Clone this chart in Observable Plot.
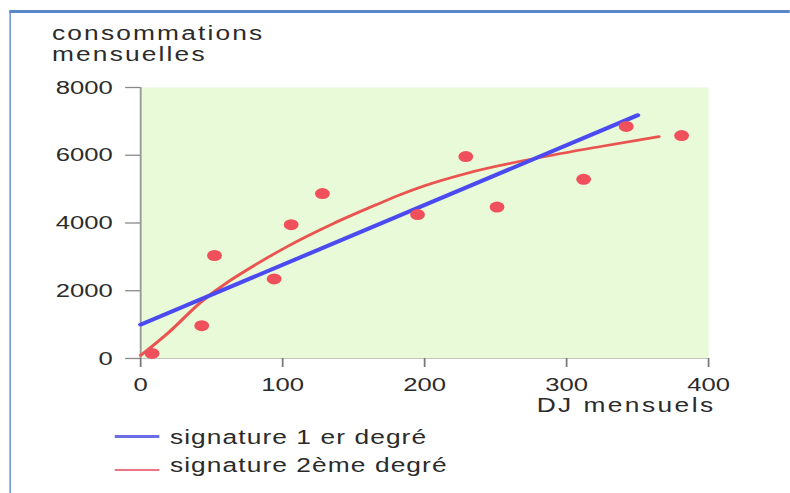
<!DOCTYPE html>
<html><head><meta charset="utf-8">
<script src="https://cdn.jsdelivr.net/npm/d3@7"></script>
<script src="https://cdn.jsdelivr.net/npm/@observablehq/plot@0.6"></script>
<style>
html,body{margin:0;padding:0;background:#fff;overflow:hidden}
#wrap{position:relative;width:585.19px;height:493px;transform:scaleX(1.35);transform-origin:0 0;font-family:"Liberation Sans",Arial,sans-serif;color:#2b2b2b}
#border{position:absolute;left:7.4px;top:9.5px;right:0;bottom:0;border-left:1.6px solid #5a87c8;border-top:3px solid #5a87c8}
#ylab{position:absolute;left:38.5px;top:23px;font-size:19.5px;line-height:20.5px;letter-spacing:1.6px;white-space:nowrap}
#chart{position:absolute;left:0;top:0}
#xlab{position:absolute;left:397.5px;top:395px;font-size:19.5px;line-height:20px;letter-spacing:1.8px;white-space:nowrap}
.sw{position:absolute;left:85.2px;width:33.3px}
.lt{position:absolute;left:125.9px;font-size:19.5px;line-height:20px;letter-spacing:0.8px;white-space:nowrap}
</style>
</head><body>
<div id="wrap">
  <div id="border"></div>
  <div id="chart"></div>
  <div id="ylab">consommations<br>mensuelles</div>
  <div id="xlab">DJ mensuels</div>
  <div class="sw" style="top:434.5px;height:3px;background:#6d6de8"></div>
  <div class="lt" style="top:427px">signature 1 er degré</div>
  <div class="sw" style="top:469px;height:2px;background:#ec7484"></div>
  <div class="lt" style="top:455px">signature 2ème degré</div>
</div>
<script>
// Measured points: monthly degree-days vs monthly consumption
const dj = [8, 43, 52, 94, 106, 128, 195, 229, 251, 312, 342, 381];
const conso = [150, 970, 3040, 2350, 3950, 4870, 4250, 5960, 4470, 5290, 6850, 6580];
// 1st-degree signature (straight line, read endpoints)
const lin1X = [0, 350];
const lin1Y = [1000, 7180];
// 2nd-degree signature (curve, read points)
const quadX = [0, 20, 42, 85, 103, 136, 167, 183, 200, 230, 277, 324, 365];
const quadY = [90, 780, 1650, 2870, 3300, 3990, 4560, 4840, 5100, 5470, 5900, 6260, 6550];
const xTicks = [0, 100, 200, 300, 400];
const yTicks = [0, 2000, 4000, 6000, 8000];

const pts = dj.map((d, i) => ({x: d, y: conso[i]}));
const lin = lin1X.map((d, i) => ({x: d, y: lin1Y[i]}));
const quad = quadX.map((d, i) => ({x: d, y: quadY[i]}));

const chart = Plot.plot({
  width: 585.19,
  height: 400,
  marginLeft: 103.7,
  marginRight: 60.8,
  marginTop: 87,
  marginBottom: 42,
  x: {domain: [0, 400]},
  y: {domain: [0, 8000]},
  style: {fontSize: "19px", fontFamily: '"Liberation Sans", Arial, sans-serif', color: "#2b2b2b", background: "transparent", overflow: "visible"},
  marks: [
    Plot.frame({fill: "#e8fad8", stroke: "none"}),
    Plot.ruleY([0], {stroke: "#c4c4c4", strokeWidth: 1}),
    Plot.ruleX([0], {stroke: "#9a9a9a", strokeWidth: 1.4}),
    Plot.axisY({ticks: yTicks, tickSize: 11, tickPadding: 9.7, label: null, stroke: "#888", strokeWidth: 1.3, tickFormat: d => String(d)}),
    Plot.axisX({ticks: xTicks, tickSize: 9, tickPadding: 10, label: null, stroke: "#777", strokeWidth: 1.3, tickFormat: d => String(d)}),
    Plot.line(quad, {x: "x", y: "y", stroke: "#ea5450", strokeWidth: 2.6, curve: "monotone-x"}),
    Plot.line(lin, {x: "x", y: "y", stroke: "#4a4af0", strokeWidth: 3.8}),
    Plot.dot(pts, {x: "x", y: "y", r: 5.5, fill: "#f0505c", stroke: "none"})
  ]
});
document.getElementById("chart").appendChild(chart);
</script>
</body></html>
